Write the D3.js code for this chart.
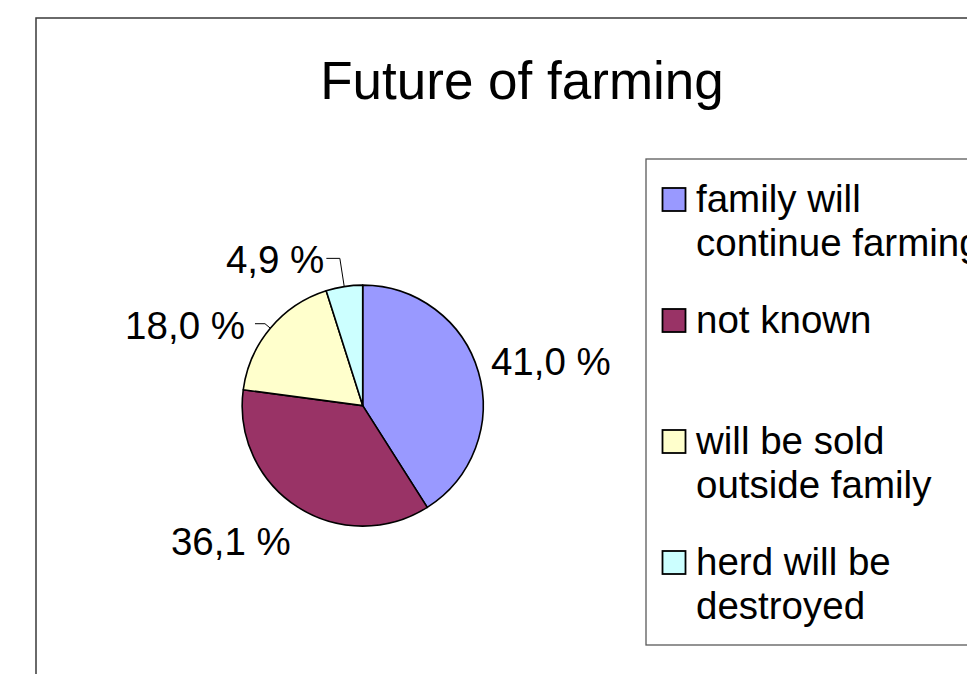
<!DOCTYPE html>
<html>
<head>
<meta charset="utf-8">
<script src="https://cdn.jsdelivr.net/npm/d3@7/dist/d3.min.js"></script>
<style>
  html, body { margin: 0; padding: 0; background: #fff; }
  svg { display: block; }
  text { font-family: "Liberation Sans", Arial, sans-serif; fill: #000; }
</style>
</head>
<body>
<svg id="chart" width="967" height="674"></svg>
<script>
// Survey answers: what happens to the farm in the future (percent of farms)
const categories = [
  "family will continue farming",
  "not known",
  "will be sold outside family",
  "herd will be destroyed"
];
const legendLines = [
  ["family will", "continue farming"],
  ["not known"],
  ["will be sold", "outside family"],
  ["herd will be", "destroyed"]
];
const shares = [41.0, 36.1, 18.0, 4.9];
const sliceColors = ["#9999FF", "#993366", "#FFFFCC", "#CCFFFF"];

// Leader-line geometry for the value labels (0 = label sits right beside its slice)
const labelLayout = [
  { elbow: 0, run: 0, gap: 0 },
  { elbow: 0, run: 0, gap: 0 },
  { elbow: 7, run: 10, gap: 10 },
  { elbow: 28.5, run: 13.5, gap: 2 }
];

const W = 967, H = 674;
const svg = d3.select("#chart");
const fontLabel = 38.5;
const capHalf = 0.716 * fontLabel / 2;

// Outer chart frame (runs off the right and bottom of the view)
svg.append("rect")
  .attr("x", 36).attr("y", 18)
  .attr("width", W + 20).attr("height", H + 20)
  .attr("fill", "#fff").attr("stroke", "#3a3a3a").attr("stroke-width", 1.5);

// Title
svg.append("text")
  .attr("x", 522).attr("y", 99)
  .attr("text-anchor", "middle")
  .style("font-size", "53px")
  .text("Future of farming");

// Pie
const cx = 362.7, cy = 405.6, r = 120.5;
const pie = d3.pie().sort(null).value(d => d);
const arcs = pie(shares);
const arc = d3.arc().innerRadius(0).outerRadius(r);
const color = d3.scaleOrdinal().domain(categories).range(sliceColors);

const g = svg.append("g").attr("transform", `translate(${cx},${cy})`);
g.selectAll("path.slice")
  .data(arcs)
  .join("path")
  .attr("class", "slice")
  .attr("d", arc)
  .attr("fill", (d, i) => color(categories[i]))
  .attr("stroke", "#000")
  .attr("stroke-width", 1.6)
  .attr("stroke-linejoin", "round");

// Value labels with decimal comma
const fmt = v => d3.format(".1f")(v).replace(".", ",") + " %";

arcs.forEach((d, i) => {
  const mid = (d.startAngle + d.endAngle) / 2;
  const dx = Math.sin(mid), dy = -Math.cos(mid);
  const lay = labelLayout[i];
  const t = g.append("text").style("font-size", fontLabel + "px").text(fmt(d.data));
  if (lay.elbow === 0) {
    const px = (r + 13) * dx, py = (r + 13) * dy;
    const middle = py + dy * 27;
    t.attr("x", px).attr("y", middle + capHalf)
      .attr("text-anchor", dx >= 0 ? "start" : "end");
  } else {
    const ex = r * dx, ey = r * dy;
    const bx = ex + lay.elbow * dx, by = ey + lay.elbow * dy;
    const side = dx >= 0 ? 1 : -1;
    const cxE = bx + side * lay.run;
    g.append("path")
      .attr("d", d3.line()([[ex, ey], [bx, by], [cxE, by]]))
      .attr("fill", "none").attr("stroke", "#000").attr("stroke-width", 1);
    t.attr("x", cxE + side * lay.gap).attr("y", by + capHalf + 1)
      .attr("text-anchor", side > 0 ? "start" : "end");
  }
});

// Legend box (runs off the right edge)
svg.append("rect")
  .attr("x", 646).attr("y", 159)
  .attr("width", W).attr("height", 645 - 159)
  .attr("fill", "#fff").attr("stroke", "#5a5a5a").attr("stroke-width", 1.3);

const legendY = d3.scalePoint().domain(categories).range([211.5, 211.5 + 3 * 121]);
const lineStep = 44;

const items = svg.selectAll("g.legend-item")
  .data(categories)
  .join("g")
  .attr("class", "legend-item")
  .attr("transform", d => `translate(0,${legendY(d)})`);

items.append("rect")
  .attr("x", 662.5).attr("y", -23.5)
  .attr("width", 23).attr("height", 23)
  .attr("fill", d => color(d))
  .attr("stroke", "#000").attr("stroke-width", 1.8);

items.each(function (d, i) {
  const t = d3.select(this).append("text")
    .attr("x", 696).attr("y", 0)
    .style("font-size", fontLabel + "px");
  legendLines[i].forEach((line, k) => {
    t.append("tspan").attr("x", 696).attr("y", k * lineStep).text(line);
  });
});
</script>
</body>
</html>
